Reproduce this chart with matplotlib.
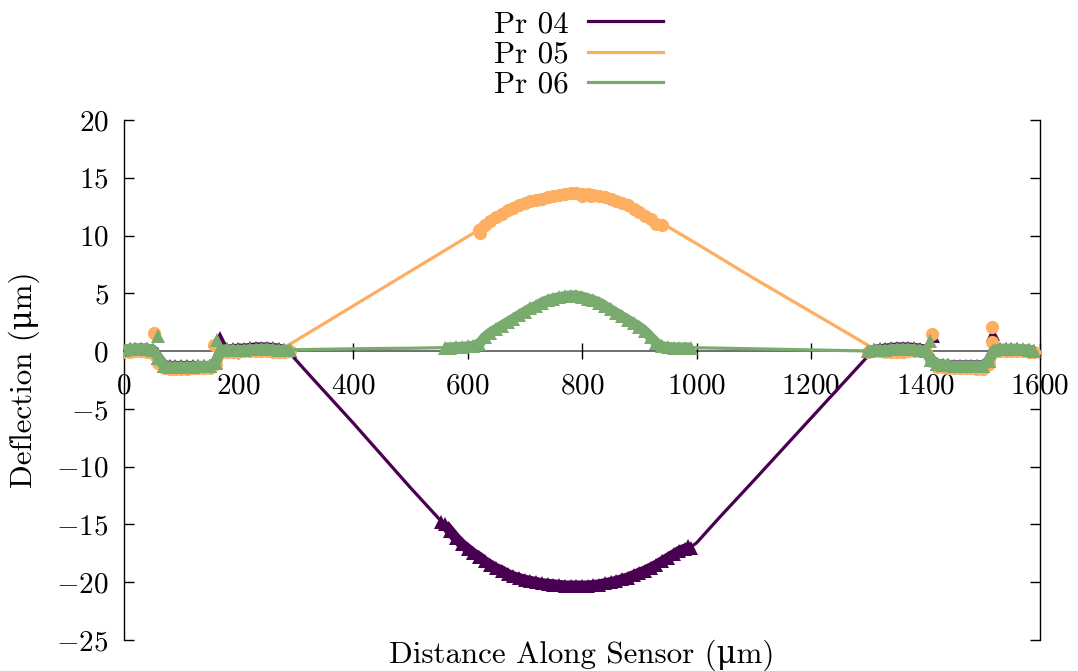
import matplotlib
matplotlib.use('Agg')

import matplotlib.pyplot as plt
from matplotlib.ticker import FuncFormatter

plt.rcParams['font.family'] = ['cmr10', 'DejaVu Serif']
plt.rcParams['mathtext.fontset'] = 'cm'
plt.rcParams['axes.formatter.use_mathtext'] = True
plt.rcParams['font.size'] = 22.3

labels = ['Pr 04', 'Pr 05', 'Pr 06']
colors = ['#4a0052', '#fdae61', '#79ab6f']

# fitted profiles (lines)
pr04_line_x = [0, 50, 58, 66, 100, 155, 163, 175, 200, 220, 240, 260, 275, 290, 330, 400, 450, 500,
               550, 580, 600, 620, 640, 660, 680, 700, 720, 740, 760, 780, 800, 820, 840, 860, 880,
               900, 920, 940, 960, 980, 1000, 1040, 1100, 1200, 1300, 1310, 1330, 1350, 1370, 1390,
               1400, 1425, 1445, 1470, 1505, 1515, 1525, 1590]
pr04_line_y = [0.1, 0.15, 0.2, -1.2, -1.3, -1.3, -0.6, 0.3, 0.25, 0.35, 0.45, 0.4, 0.25, -0.2, -2.4,
               -6.2, -9.0, -11.8, -14.5, -16.0, -16.9, -17.7, -18.4, -18.9, -19.3, -19.6, -19.9,
               -20.1, -20.2, -20.3, -20.3, -20.3, -20.2, -20.0, -19.7, -19.4, -19.0, -18.5, -17.9,
               -17.3, -16.6, -14.4, -11.2, -5.8, -0.4, 0.0, 0.3, 0.45, 0.5, 0.4, 0.3, -1.1, -1.2,
               -1.25, -1.25, -0.3, 0.2, 0.1]

pr05_line_x = [0, 50, 56, 66, 100, 155, 165, 175, 200, 250, 280, 400, 500, 620, 650, 700, 750, 780,
               800, 830, 860, 890, 920, 942, 1000, 1100, 1200, 1310, 1350, 1400, 1410, 1425, 1500,
               1512, 1525, 1590]
pr05_line_y = [-0.1, 0.0, -0.5, -1.5, -1.5, -1.5, -0.3, 0.0, 0.0, 0.0, 0.3, 3.9, 6.9, 10.5, 11.5,
               12.6, 13.3, 13.6, 13.7, 13.6, 13.2, 12.6, 11.8, 11.0, 9.3, 6.3, 3.4, 0.2, 0.0, -0.1,
               -0.6, -1.4, -1.5, -0.6, 0.0, -0.1]

pr06_line_x = [0, 50, 58, 66, 100, 155, 165, 175, 200, 250, 280, 400, 500, 560, 600, 630, 680, 720,
               760, 780, 800, 840, 880, 920, 940, 990, 1100, 1200, 1310, 1400, 1410, 1425, 1500,
               1512, 1525, 1590]
pr06_line_y = [0.1, 0.2, -0.4, -1.3, -1.3, -1.3, -0.2, 0.1, 0.1, 0.15, 0.1, 0.2, 0.25, 0.3, 0.45,
               1.3, 2.8, 3.9, 4.6, 4.75, 4.7, 3.9, 2.7, 1.2, 0.5, 0.3, 0.2, 0.1, 0.0, 0.0, -0.7,
               -1.2, -1.3, -0.6, 0.1, 0.1]

# measured points (markers)
edge_left_x = [0, 10, 20, 30, 40, 50, 60, 70, 80, 90, 100, 110, 120, 130, 140, 150, 160, 170, 180,
               190, 200, 210, 220, 230, 240, 250, 260, 270, 280, 290]
edge_right_x = [1300, 1310, 1320, 1330, 1340, 1350, 1360, 1370, 1380, 1390, 1400, 1410, 1420, 1430,
                1440, 1450, 1460, 1470, 1480, 1490, 1500, 1510, 1520, 1530, 1540, 1550, 1560, 1570,
                1580, 1590]

pr04_left_y = [0.1, 0.15, 0.2, 0.2, 0.2, 0.1, -0.6, -1.25, -1.3, -1.3, -1.3, -1.3, -1.3, -1.3, -1.3,
               -1.3, -1.0, 0.1, 0.15, 0.15, 0.2, 0.2, 0.25, 0.3, 0.3, 0.3, 0.25, 0.2, 0.1, 0.0]
pr04_right_y = [0.0, 0.1, 0.15, 0.2, 0.25, 0.3, 0.3, 0.3, 0.25, 0.2, 0.1, -0.8, -1.1, -1.2, -1.2,
                -1.25, -1.25, -1.25, -1.25, -1.25, -1.25, -0.9, 0.1, 0.15, 0.15, 0.15, 0.15, 0.1,
                0.1, 0.05]
pr04_mid_x = [560, 570, 580, 590, 600, 610, 620, 630, 640, 650, 660, 670, 680, 690, 700, 710, 720,
              730, 740, 750, 760, 770, 780, 790, 800, 810, 820, 830, 840, 850, 860, 870, 880, 890,
              900, 910, 920, 930, 940, 950, 960, 970, 980, 990]
pr04_mid_y = [-15.0, -15.6, -16.2, -16.7, -17.1, -17.5, -17.8, -18.2, -18.5, -18.8, -19.0, -19.3,
              -19.5, -19.65, -19.8, -19.9, -20.0, -20.1, -20.15, -20.2, -20.25, -20.3, -20.3, -20.3,
              -20.3, -20.3, -20.25, -20.2, -20.1, -20.0, -19.9, -19.75, -19.6, -19.4, -19.2, -19.0,
              -18.75, -18.5, -18.2, -17.9, -17.6, -17.3, -17.1, -17.0]
pr04_out_x = [553, 168, 1413, 1518, 985]
pr04_out_y = [-14.8, 1.1, 1.3, 1.5, -16.9]

pr05_left_y = [-0.1, -0.05, 0.0, 0.0, -0.05, -0.2, -1.0, -1.5, -1.55, -1.55, -1.55, -1.55, -1.5,
               -1.5, -1.5, -1.45, -1.1, -0.1, -0.05, -0.05, -0.05, 0.0, 0.0, 0.0, 0.0, 0.0, -0.05,
               -0.1, -0.1, 0.0]
pr05_right_y = [-0.1, 0.0, 0.0, -0.05, -0.1, -0.1, -0.05, 0.0, 0.0, 0.0, -0.1, -0.9, -1.4, -1.4,
                -1.45, -1.5, -1.5, -1.5, -1.5, -1.55, -1.55, -1.1, -0.1, 0.0, 0.0, 0.0, 0.0, 0.0,
                -0.05, -0.1]
pr05_mid_x = [620, 630, 640, 650, 660, 670, 680, 690, 700, 710, 720, 730, 740, 750, 760, 770, 780,
              790, 800, 810, 820, 830, 840, 850, 860, 870, 880, 890, 900, 910, 920, 930, 940]
pr05_mid_y = [10.5, 10.9, 11.3, 11.6, 11.9, 12.2, 12.4, 12.6, 12.8, 12.95, 13.1, 13.2, 13.3, 13.4,
              13.5, 13.6, 13.65, 13.7, 13.6, 13.6, 13.5, 13.45, 13.35, 13.2, 13.0, 12.8, 12.6,
              12.3, 12.0, 11.7, 11.4, 11.0, 10.9]
pr05_out_x = [622, 800, 815, 52, 158, 1411, 1516, 1516]
pr05_out_y = [10.2, 13.4, 13.45, 1.55, 0.5, 1.5, 2.1, 0.8]

pr06_left_y = [0.1, 0.2, 0.2, 0.2, 0.2, 0.1, -0.6, -1.3, -1.35, -1.35, -1.35, -1.35, -1.35, -1.3,
               -1.3, -1.3, -1.0, 0.1, 0.15, 0.1, 0.1, 0.1, 0.15, 0.15, 0.2, 0.2, 0.15, 0.1, 0.1,
               0.1]
pr06_right_y = [0.0, 0.1, 0.1, 0.1, 0.15, 0.2, 0.2, 0.2, 0.15, 0.1, 0.0, -0.8, -1.1, -1.2, -1.2,
                -1.3, -1.3, -1.3, -1.3, -1.3, -1.3, -0.9, 0.1, 0.2, 0.2, 0.2, 0.2, 0.15, 0.1, 0.05]
pr06_mid_x = [560, 570, 580, 590, 600, 610, 620, 630, 640, 650, 660, 670, 680, 690, 700, 710, 720,
              730, 740, 750, 760, 770, 780, 790, 800, 810, 820, 830, 840, 850, 860, 870, 880, 890,
              900, 910, 920, 930, 940, 950, 960, 970, 980, 990]
pr06_mid_y = [0.3, 0.3, 0.35, 0.35, 0.4, 0.45, 0.6, 1.2, 1.6, 1.9, 2.2, 2.5, 2.8, 3.1, 3.4, 3.7,
              3.9, 4.2, 4.4, 4.55, 4.65, 4.75, 4.8, 4.8, 4.7, 4.55, 4.4, 4.2, 3.9, 3.6, 3.3, 3.0,
              2.7, 2.4, 2.1, 1.7, 1.2, 0.7, 0.4, 0.35, 0.3, 0.3, 0.3, 0.3]
pr06_out_x = [59, 163, 1408]
pr06_out_y = [1.3, 1.0, 0.9]

fig = plt.figure(figsize=(10.78, 6.71), dpi=100)
ax = fig.add_axes([0.115, 0.0462, 0.8498, 0.775])

series = [
    (pr04_line_x, pr04_line_y, pr04_left_y, pr04_right_y, pr04_mid_x, pr04_mid_y, pr04_out_x, pr04_out_y, '^', 10),
    (pr05_line_x, pr05_line_y, pr05_left_y, pr05_right_y, pr05_mid_x, pr05_mid_y, pr05_out_x, pr05_out_y, 'o', 9.5),
    (pr06_line_x, pr06_line_y, pr06_left_y, pr06_right_y, pr06_mid_x, pr06_mid_y, pr06_out_x, pr06_out_y, '^', 10),
]

handles = []
for i, (lx, ly, yl, yr, mx, my, ox, oy, mk, ms) in enumerate(series):
    c = colors[i]
    # dense measurement runs: markers joined by a thick band so they read as one strip
    for sx, sy in [(edge_left_x, yl), (edge_right_x, yr), (mx, my)]:
        ax.plot(sx, sy, linestyle='-', lw=ms * 0.75, color=c, marker=mk, ms=ms,
                mew=0, solid_capstyle='butt', zorder=2 + i)
    ax.plot(ox, oy, linestyle='none', marker=mk, ms=ms, mfc=c, mec=c, mew=0, zorder=2 + i)
    h, = ax.plot(lx, ly, color=c, lw=2.3, zorder=2 + i, label=labels[i])
    handles.append(h)

ax.set_xlim(0, 1600)
ax.set_ylim(-25, 20)
ax.set_xticks(range(0, 1601, 200))
ax.set_yticks(range(-25, 21, 5))
fmt = FuncFormatter(lambda v, p: r'$%d$' % v)
ax.xaxis.set_major_formatter(fmt)
ax.yaxis.set_major_formatter(fmt)

ax.spines['top'].set_visible(False)
ax.spines['bottom'].set_position(('data', 0))
ax.spines['bottom'].set_color('#555555')
ax.spines['bottom'].set_linewidth(1.2)
ax.spines['bottom'].set_zorder(1)
ax.spines['left'].set_linewidth(1.0)
ax.spines['right'].set_linewidth(1.0)

ax.tick_params(axis='x', direction='inout', length=12, width=1.0, top=False, pad=10, labelsize=21)
ax.tick_params(axis='y', direction='in', length=7, width=1.0, right=True, pad=11, labelsize=21)

ax.set_xlabel('Distance Along Sensor (μm)')
ax.xaxis.set_label_coords(0.5, 0.0)
ax.xaxis.label.set_va('top')
ax.set_ylabel('Deflection (μm)')
ax.yaxis.set_label_coords(-0.092, 0.5)

fig.legend(handles=handles, loc='upper center', bbox_to_anchor=(0.537, 0.985), frameon=False,
           markerfirst=False, handlelength=2.45, handletextpad=0.6, labelspacing=0.08,
           borderpad=0.0, borderaxespad=0.0)

fig.savefig('out.png', dpi=100)
